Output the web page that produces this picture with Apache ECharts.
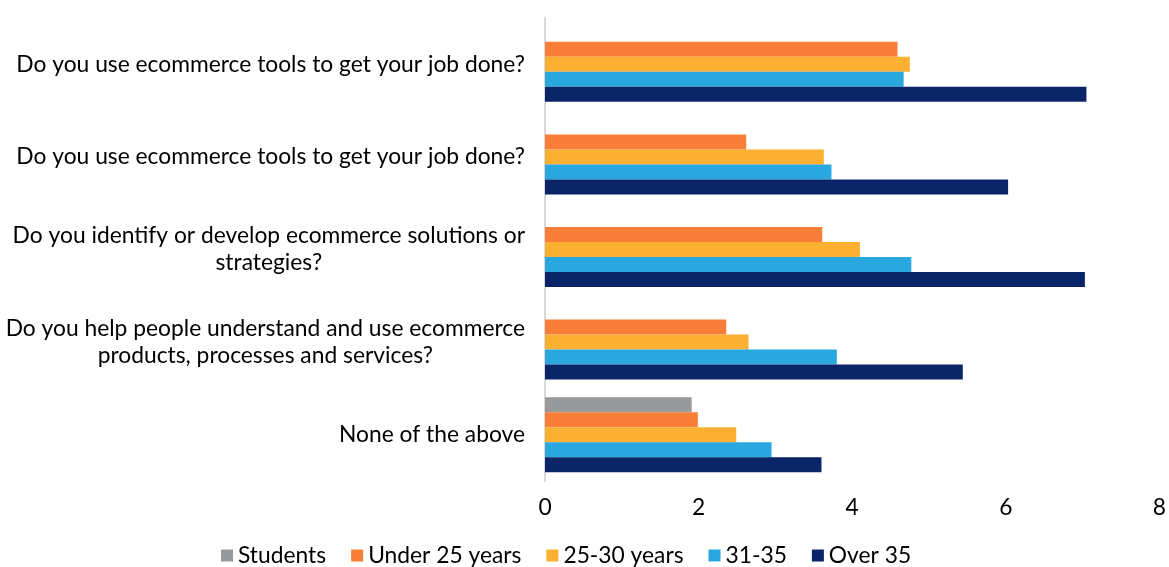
<!DOCTYPE html>
<html>
<head>
<meta charset="utf-8">
<script src="https://cdn.jsdelivr.net/npm/echarts@6/dist/echarts.min.js"></script>
<style>
  html, body { margin: 0; padding: 0; background: #ffffff; }
  #chart { width: 1169px; height: 567px; }
</style>
</head>
<body>
<div id="chart"></div>
<script>
// Questions, listed top to bottom
const categories = [
  'Do you use ecommerce tools to get your job done?',
  'Do you use ecommerce tools to get your job done? ',
  'Do you identify or develop ecommerce solutions or\nstrategies?',
  'Do you help people understand and use ecommerce\nproducts, processes and services?',
  'None of the above'
];

const seriesNames = ['Students', 'Under 25 years', '25-30 years', '31-35', 'Over 35'];

const students   = [null, null, null, null, 1.91];
const under25    = [4.59, 2.62, 3.61, 2.36, 1.99];
const age25to30  = [4.75, 3.63, 4.10, 2.65, 2.49];
const age31to35  = [4.67, 3.73, 4.77, 3.80, 2.95];
const over35     = [7.05, 6.03, 7.03, 5.44, 3.60];

const xTicks = [0, 2, 4, 6, 8];

const colors = ['#97999b', '#f97e37', '#fbb032', '#29a8e0', '#0a2468'];
const values = [students, under25, age25to30, age31to35, over35];

const FONT = 'Lato';
const FS = 22.8;

const chart = echarts.init(document.getElementById('chart'), null, { renderer: 'canvas' });

chart.setOption({
  animation: false,
  textStyle: { fontFamily: FONT },
  grid: { left: 545, right: 9, top: 18, bottom: 86, containLabel: false },
  legend: {
    top: 539,
    left: 216,
    itemWidth: 12,
    itemHeight: 12,
    itemGap: 25,
    icon: 'rect',
    textStyle: { fontFamily: FONT, fontSize: FS, color: '#000000', padding: [0, 0, 0, 0] },
    data: seriesNames
  },
  xAxis: {
    type: 'value',
    min: xTicks[0],
    max: xTicks[xTicks.length - 1],
    interval: 2,
    axisLine: { show: false },
    axisTick: { show: false },
    splitLine: { show: false },
    axisLabel: { fontFamily: FONT, fontSize: FS, color: '#000000', margin: 15 }
  },
  yAxis: {
    type: 'category',
    inverse: true,
    data: categories,
    axisLine: { show: true, lineStyle: { color: '#d9d9d9', width: 2 } },
    axisTick: { show: false },
    axisLabel: {
      fontFamily: FONT,
      fontSize: FS,
      color: '#000000',
      margin: 20,
      lineHeight: 27,
      formatter: function (v) {
        return v.split('\n').map(function (s) { return '{c|' + s.trim() + '}'; }).join('\n');
      },
      rich: {
        c: { align: 'center', fontFamily: FONT, fontSize: FS, color: '#000000', lineHeight: 27 }
      }
    }
  },
  series: seriesNames.map(function (name, i) {
    return {
      name: name,
      type: 'bar',
      data: values[i],
      barGap: '0%',
      barCategoryGap: '19%',
      itemStyle: { color: colors[i] }
    };
  })
});
</script>
</body>
</html>
